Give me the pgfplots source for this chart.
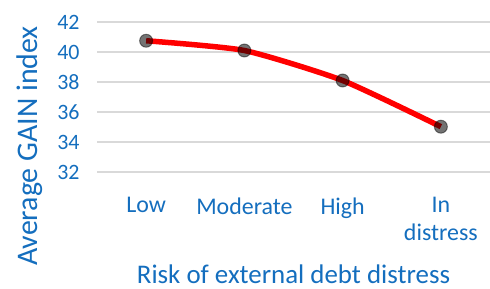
\documentclass[border=0pt]{standalone}
\usepackage{pgfplots}
\pgfplotsset{compat=1.18}
\usepackage{fontspec}
\setmainfont{Carlito}
\definecolor{txtblue}{RGB}{20,110,190}
\definecolor{gridgray}{RGB}{217,217,217}
\begin{document}
\begin{tikzpicture}
\useasboundingbox (0bp,0bp) rectangle (490bp,289bp);
\begin{axis}[
  at={(97bp,117bp)}, anchor=south west,
  scale only axis, width=393bp, height=150bp,
  xmin=-0.5, xmax=3.5, ymin=32, ymax=42,
  ytick={32,34,...,42},
  xtick={0,1,2,3},
  xticklabels={Low,Moderate,High,In\\distress},
  xticklabel style={align=center, font=\fontsize{24}{28}\selectfont, text=txtblue, anchor=north, yshift=-22bp},
  yticklabel style={font=\fontsize{22}{24}\selectfont, text=txtblue, xshift=-14bp},
  /pgf/number format/assume math mode=true,
  axis line style={draw=none},
  major tick length=0pt,
  ymajorgrids, grid style={gridgray, line width=1.2bp},
  xlabel={Risk of external debt distress},
  ylabel={Average GAIN index},
  xlabel style={font=\fontsize{27}{30}\selectfont, text=txtblue, at={(axis description cs:0.5,0)}, anchor=base, yshift=-111bp},
  ylabel style={font=\fontsize{30}{32}\selectfont, text=txtblue, at={(axis description cs:-0.170,0.173)}, anchor=center},
  clip=false,
]
\addplot[red, line width=5.5bp, smooth, tension=0.35,
  mark=*, mark size=6.5bp,
  mark options={fill=black, fill opacity=0.55, draw=black, draw opacity=0.45, line width=1bp}]
  coordinates {(0,40.75) (1,40.1) (2,38.1) (3,35.02)};
\end{axis}
\end{tikzpicture}
\end{document}
